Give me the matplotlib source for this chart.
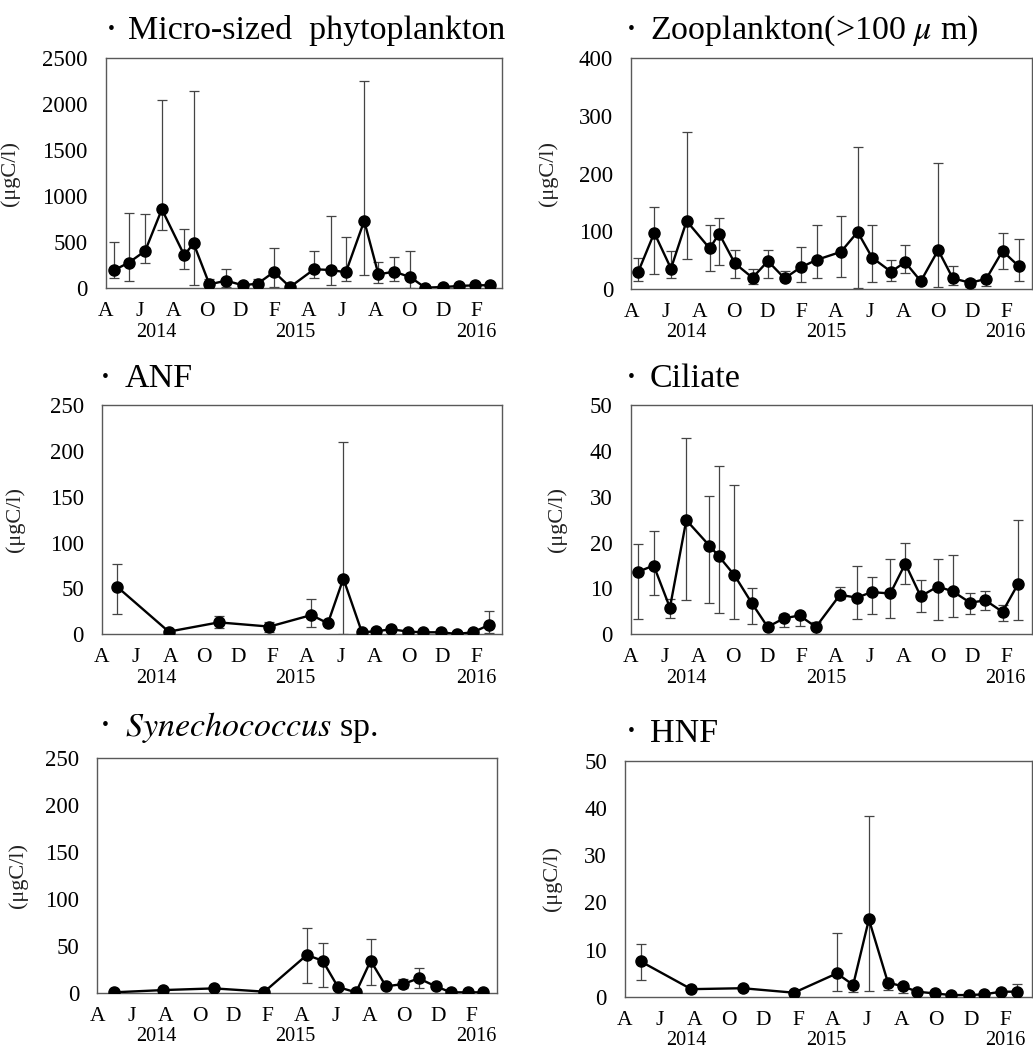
import matplotlib
matplotlib.use("Agg")
import matplotlib.pyplot as plt

plt.rcParams['font.family'] = ['Liberation Serif', 'DejaVu Serif']
plt.rcParams['mathtext.fontset'] = 'stix'

W, H = 1033, 1052

month_labels = ['A', 'J', 'A', 'O', 'D', 'F', 'A', 'J', 'A', 'O', 'D', 'F']
month_ticks = [0, 2, 4, 6, 8, 10, 12, 14, 16, 18, 20, 22]
year_labels = ['2014', '2015', '2016']

# Micro-sized phytoplankton
x1 = [0.48, 1.37, 2.34, 3.33, 4.66, 5.21, 6.15, 7.14, 8.13, 9.02, 9.98, 10.93, 12.36, 13.35, 14.24, 15.33, 16.17, 17.12, 18.07, 18.95, 20.0, 20.95, 21.9, 22.8]
m1 = [196, 279, 406, 859, 359, 489, 43, 83, 33, 51, 178, 14, 207, 199, 174, 732, 152, 181, 120, 7, 14, 25, 33, 33]
hi1 = [500, 815, 804, 2047, 641, 2141, 101, 207, 40, 98, 435, 20, 402, 790, 562, 2250, 283, 344, 402, 12, 20, 30, 40, 40]
lo1 = [116, 83, 272, 634, 210, 36, 20, 10, 25, 20, 10, 8, 116, 33, 76, 141, 54, 76, 0, 3, 8, 20, 25, 25]

# Zooplankton
x2 = [0.41, 1.35, 2.33, 3.25, 4.6, 5.16, 6.08, 7.12, 8.02, 9.0, 9.94, 10.88, 12.31, 13.29, 14.14, 15.25, 16.08, 17.0, 18.02, 18.88, 19.9, 20.84, 21.8, 22.75]
m2 = [29.5, 97, 35, 117.5, 70, 95.5, 44, 19, 48, 18, 37, 50, 64, 98.5, 54, 29.5, 46, 13, 67, 18, 10.4, 17, 65.5, 39]
hi2 = [54, 141, 66, 271.5, 111, 123, 68, 34, 68, 30, 72, 110, 126, 246.6, 111, 49, 76, 17, 219, 40, 17, 19, 97, 87]
lo2 = [13, 25, 18, 51, 31, 42, 19, 9, 18, 13, 11, 18, 21, 0.5, 11, 13, 28, 9, 3.5, 6, 3.5, 4, 34, 13]

# ANF
x3 = [0.9, 3.92, 6.86, 9.84, 12.3, 13.27, 14.18, 15.27, 16.12, 17.0, 18.0, 18.88, 19.9, 20.84, 21.8, 22.73]
m3 = [51.6, 2.9, 13, 8.4, 21, 12, 60.7, 2.2, 3.3, 5.5, 2.9, 2.2, 2.2, 0.4, 2.2, 10.2]
hi3 = [77, 2.9, 20, 13, 38, 12, 210, 2.2, 7, 8.4, 2.9, 2.2, 2.2, 0.4, 2.2, 25]
lo3 = [22.5, 2.9, 6.5, 2, 7.6, 12, 0.4, 2.2, 1, 3, 2.9, 2.2, 2.2, 0.4, 2.2, 1]

# Ciliate
x4 = [0.41, 1.35, 2.3, 3.26, 4.62, 5.17, 6.08, 7.1, 8.03, 8.99, 9.9, 10.86, 12.27, 13.26, 14.13, 15.22, 16.1, 17.0, 18.0, 18.87, 19.9, 20.8, 21.8, 22.7]
m4 = [13.6, 15.0, 5.8, 24.9, 19.3, 17.0, 12.9, 6.8, 1.6, 3.5, 4.1, 1.6, 8.6, 8.0, 9.2, 8.9, 15.4, 8.3, 10.4, 9.4, 6.9, 7.4, 4.9, 10.9]
hi4 = [19.7, 22.6, 7.8, 42.7, 30.1, 36.7, 32.5, 10.0, 1.6, 4.4, 4.8, 2.6, 10.4, 15.0, 12.6, 16.5, 19.8, 11.8, 16.5, 17.2, 8.9, 9.4, 6.3, 25.0]
lo4 = [3.3, 8.5, 3.5, 7.4, 6.9, 4.6, 3.3, 2.2, 1.6, 1.6, 1.9, 0.1, 7.6, 3.3, 4.5, 3.5, 11.0, 4.8, 3.2, 3.7, 4.5, 5.2, 2.8, 3.2]

# Synechococcus sp.
x5 = [0.96, 3.88, 6.86, 9.82, 12.31, 13.24, 14.14, 15.2, 16.06, 16.96, 17.96, 18.88, 19.88, 20.78, 21.78, 22.65]
m5 = [0.4, 2.8, 4.6, 1.1, 40.2, 34.1, 6.0, 0.4, 34.1, 6.8, 9.2, 15.3, 6.8, 0.4, 0.4, 0.4]
hi5 = [0.4, 2.8, 4.6, 1.1, 68.6, 52.6, 6.0, 0.4, 56.9, 6.8, 15, 26, 6.8, 0.4, 0.4, 0.4]
lo5 = [0.4, 2.8, 4.6, 1.1, 10, 6, 6.0, 0.4, 8.2, 6.8, 4.6, 5.3, 6.8, 0.4, 0.4, 0.4]

# HNF
x6 = [0.9, 3.83, 6.8, 9.77, 12.25, 13.19, 14.1, 15.2, 16.06, 16.9, 17.9, 18.85, 19.9, 20.75, 21.75, 22.67]
m6 = [7.5, 1.6, 1.8, 0.85, 4.95, 2.5, 16.4, 3.0, 2.2, 1.06, 0.7, 0.35, 0.35, 0.5, 1.06, 1.06]
hi6 = [11.1, 1.6, 1.8, 0.85, 13.6, 2.5, 38.3, 3.8, 2.8, 1.06, 0.7, 0.35, 0.35, 0.5, 1.06, 2.8]
lo6 = [3.5, 1.6, 1.8, 0.85, 1.3, 1.0, 1.3, 1.4, 0.85, 1.06, 0.7, 0.35, 0.35, 0.5, 1.06, 1.06]

titles = ['Micro-sized  phytoplankton', r'Zooplankton(>100 $\mu$ m)', 'ANF', 'Ciliate',
          r'$\mathit{Synechococcus}$ sp.', 'HNF']

panels = [
    dict(x=x1, m=m1, hi=hi1, lo=lo1, ymax=2500, step=500,
         box=(105.7, 58.3, 502, 288.3), title=(128, 39), bullet=111.7, ylab=20, years=(156.7, 295, 476.7)),
    dict(x=x2, m=m2, hi=hi2, lo=lo2, ymax=400, step=100,
         box=(631.3, 58.3, 1031.5, 288.7), title=(650, 39), bullet=631.7, ylab=558, years=(686.7, 826.7, 1005)),
    dict(x=x3, m=m3, hi=hi3, lo=lo3, ymax=250, step=50,
         box=(102, 405, 502, 634.3), title=(125, 387), bullet=105, ylab=25, years=(156.7, 295, 476.7)),
    dict(x=x4, m=m4, hi=hi4, lo=lo4, ymax=50, step=10,
         box=(630.7, 405, 1031.5, 634.3), title=(650, 387), bullet=631.7, ylab=567, years=(686.7, 826.7, 1005)),
    dict(x=x5, m=m5, hi=hi5, lo=lo5, ymax=250, step=50,
         box=(97.3, 758.3, 497.3, 992.7), title=(125, 736), bullet=105, ylab=28, years=(156.7, 295, 476.7)),
    dict(x=x6, m=m6, hi=hi6, lo=lo6, ymax=50, step=10,
         box=(625, 761, 1031.5, 996.7), title=(650, 742), bullet=631.7, ylab=562, years=(686.7, 826.7, 1005)),
]

fig = plt.figure(figsize=(W / 100, H / 100), dpi=100)

for p, title in zip(panels, titles):
    l, t, r, b = p['box']
    ax = fig.add_axes([l / W, 1 - b / H, (r - l) / W, (b - t) / H])
    yerr = [[mv - lv for mv, lv in zip(p['m'], p['lo'])],
            [hv - mv for mv, hv in zip(p['m'], p['hi'])]]
    ax.errorbar(p['x'], p['m'], yerr=yerr, fmt='none', ecolor='#444444',
                elinewidth=0.9, capsize=3.5, capthick=0.9, zorder=2)
    ax.plot(p['x'], p['m'], color='black', lw=1.7, marker='o', ms=8, zorder=3)
    ax.set_xlim(0, 23.5)
    ax.set_ylim(0, p['ymax'])
    ax.set_yticks(range(0, p['ymax'] + 1, p['step']))
    ax.set_xticks(month_ticks)
    ax.set_xticklabels(month_labels)
    ax.tick_params(axis='both', length=0)
    ax.tick_params(axis='y', pad=13, labelsize=16.5)
    ax.tick_params(axis='x', pad=10, labelsize=15.5)
    for s in ax.spines.values():
        s.set_color('#595959')
        s.set_linewidth(1.0)
    ax.set_ylabel('(μgC/l)', fontsize=16, color='#222222')
    ax.yaxis.set_label_coords((p['ylab'] - l) / (r - l), 0.5)
    for yx, ylbl in zip(p['years'], year_labels):
        fig.text(yx / W, 1 - (b + 44) / H, ylbl, ha='center', va='center', fontsize=14.5)
    tx, ty = p['title']
    fig.text(p['bullet'] / W, 1 - (ty - 10) / H, '•', ha='center', va='center', fontsize=14)
    fig.text(tx / W, 1 - ty / H, title, ha='left', va='baseline', fontsize=24.5)

fig.savefig('out.png', dpi=100)
